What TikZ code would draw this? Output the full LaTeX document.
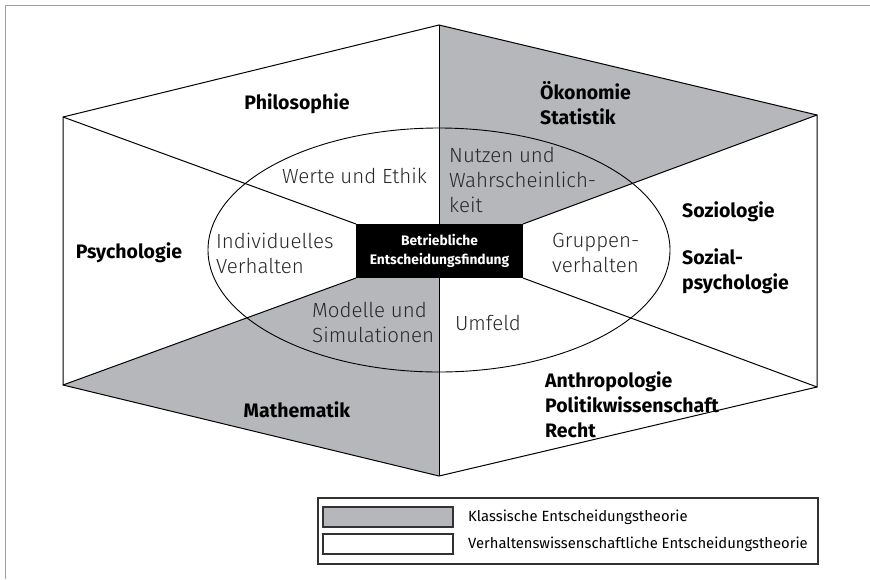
\documentclass[tikz,border=0pt]{standalone}
\usepackage{fontspec}
\setmainfont{Fira Sans}
\newfontfamily\lightfont{Fira Sans Light}
\definecolor{classic}{RGB}{182,183,187}
\definecolor{framegray}{RGB}{160,160,160}
\definecolor{innertext}{RGB}{40,40,40}
\definecolor{legendline}{RGB}{50,50,50}
\begin{document}
\begin{tikzpicture}[x=1pt,y=-1pt,
  edge/.style={line width=1pt,black},
  field/.style={inner sep=0pt,font=\fontsize{19.5}{25}\selectfont\bfseries,align=left},
  topic/.style={inner sep=0pt,font=\fontsize{20.5}{25}\selectfont\lightfont,text=innertext,align=left},
  legendtext/.style={inner sep=0pt,font=\fontsize{14.8}{17}\selectfont,anchor=west},
  swatch/.style={draw=legendline,line width=1.2pt}]
\useasboundingbox (0,0) rectangle (870,579);

% page frame
\draw[framegray,line width=1.5pt] (870,5.5) -- (5.5,5.5) -- (5.5,579);

% outer hexagon corners
\coordinate (T)  at (439,25);
\coordinate (RU) at (817,115);
\coordinate (RL) at (817,387);
\coordinate (B)  at (439,476);
\coordinate (LL) at (63,385);
\coordinate (LU) at (63,117);

% central box geometry
\coordinate (cNW) at (356,224);
\coordinate (cNE) at (523,224);
\coordinate (cSW) at (356,278);
\coordinate (cSE) at (523,278);
\coordinate (cN)  at (439,224);
\coordinate (cS)  at (439,278);

% classical decision theory sectors
\fill[classic] (T) -- (RU) -- (cNE) -- (cN) -- cycle;
\fill[classic] (B) -- (LL) -- (cSW) -- (cS) -- cycle;

% sector borders
\draw[edge,line join=miter] (T) -- (RU) -- (RL) -- (B) -- (LL) -- (LU) -- cycle;
\draw[edge] (LU) -- (cNW);
\draw[edge] (RU) -- (cNE);
\draw[edge] (LL) -- (cSW);
\draw[edge] (RL) -- (cSE);
\draw[edge] (T) -- (cN);
\draw[edge] (B) -- (cS);

% inner ellipse
\draw[line width=0.9pt] (439,250) ellipse [x radius=231, y radius=122];

% centre
\node[fill=black,text=white,minimum width=167pt,minimum height=54pt,inner sep=0pt,
      font=\fontsize{13.8}{19}\selectfont\bfseries,align=center] (ctr) at (439.5,251)
  {Betriebliche\\Entscheidungsfindung};

% disciplines
\node[field,anchor=center] (phil) at (297,104) {Philosophie};
\node[field,anchor=west] (oeko) at (540,103) {Ökonomie\\Statistik};
\node[field,anchor=center] (psy) at (129,253) {Psychologie};
\node[field,anchor=west] (soz) at (682,212) {Soziologie};
\node[field,anchor=west] (sozpsy) at (682,271) {Sozial-\\psychologie};
\node[field,anchor=center] (math) at (297,410) {Mathematik};
\node[field,anchor=west] (anthro) at (545,405) {Anthropologie\\Politikwissenschaft\\Recht};

% topics
\node[topic,anchor=east] (werte) at (427,176) {Werte und Ethik};
\node[topic,anchor=west] (nutzen) at (449,180) {Nutzen und\\Wahrscheinlich-\\keit};
\node[topic,anchor=west] (indiv) at (216,253) {Individuelles\\Verhalten};
\node[topic,anchor=west] (gruppe) at (552,253) {Gruppen-\\verhalten};
\node[topic,anchor=west] (modelle) at (312,322) {Modelle und\\Simulationen};
\node[topic,anchor=center] (umfeld) at (488,323) {Umfeld};

% legend
\draw[legendline,line width=1.5pt] (318,498) rectangle (818,564);
\filldraw[swatch,fill=classic] (323,507) rectangle (453,527);
\draw[swatch] (323,534) rectangle (453,554);
\node[legendtext] (lg1) at (468,517) {Klassische Entscheidungstheorie};
\node[legendtext] (lg2) at (468,544) {Verhaltenswissenschaftliche Entscheidungstheorie};
\end{tikzpicture}
\end{document}
